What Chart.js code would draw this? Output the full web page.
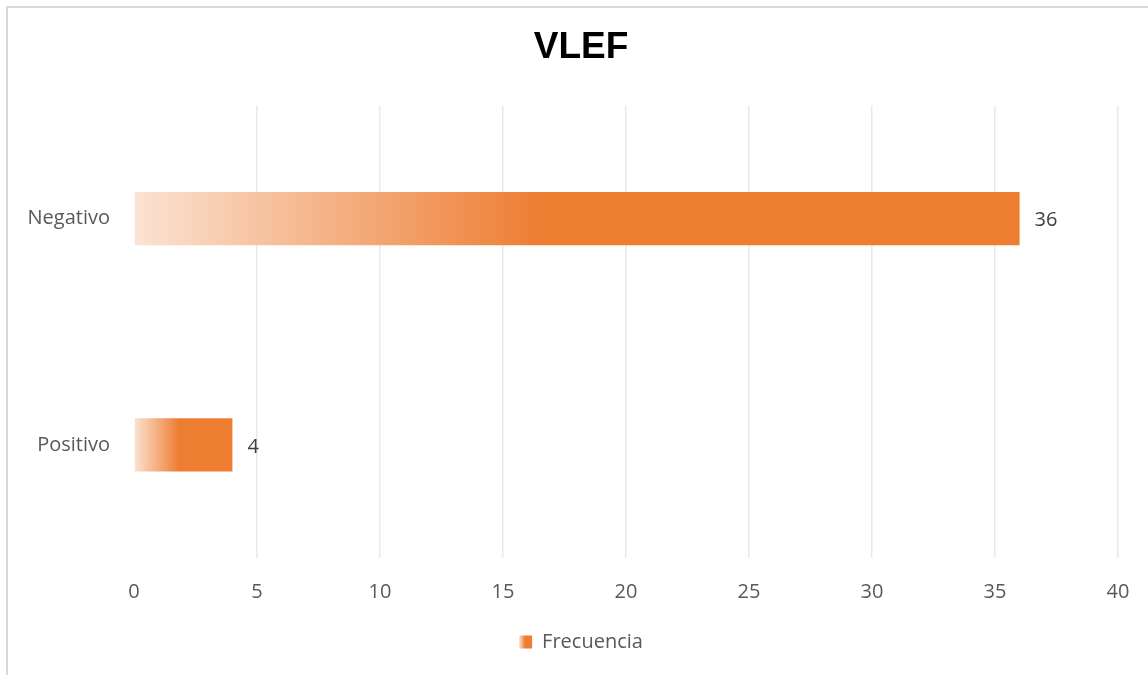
<!DOCTYPE html>
<html>
<head>
<meta charset="utf-8">
<script src="https://cdn.jsdelivr.net/npm/chart.js@4"></script>
<style>
  html, body { margin: 0; padding: 0; background: #fff; overflow: hidden; }
  #frame { position: absolute; left: 6px; top: 6px; width: 1200px; height: 720px; border: 2px solid #d9d9d9; }
  #wrap { position: absolute; left: 0; top: 0; width: 1148px; height: 675px; }
</style>
</head>
<body>
<div id="frame"></div>
<div id="wrap"><canvas id="vlefChart" width="1148" height="675"></canvas></div>
<script>
const categories = ['Negativo', 'Positivo'];
const frecuencia = [36, 4];
const xTicks = [0, 5, 10, 15, 20, 25, 30, 35, 40];

const ORANGE = '#ED7D31';
const LIGHT = '#FBE3D3';
const FONT = "'Open Sans', sans-serif";

function barGradient(context) {
    const chart = context.chart;
    if (!chart.chartArea || context.type !== 'data') return ORANGE;
    const x = chart.scales.x;
    const x0 = x.getPixelForValue(0);
    const x1 = x.getPixelForValue(context.raw);
    const g = chart.ctx.createLinearGradient(x0, 0, x1, 0);
    g.addColorStop(0, LIGHT);
    g.addColorStop(0.46, ORANGE);
    g.addColorStop(1, ORANGE);
    return g;
}

// values at the end of each bar
const valueLabels = {
    id: 'valueLabels',
    afterDatasetsDraw(chart) {
        const ctx = chart.ctx;
        const meta = chart.getDatasetMeta(0);
        ctx.save();
        ctx.font = '20px ' + FONT;
        ctx.fillStyle = '#404040';
        ctx.textAlign = 'left';
        ctx.textBaseline = 'middle';
        meta.data.forEach(function (bar, i) {
            ctx.fillText(String(frecuencia[i]), bar.x + 15, bar.y + 2);
        });
        ctx.restore();
    }
};

// legend swatch drawn with the same fading fill as the bars
const legendSwatch = {
    id: 'legendSwatch',
    afterDraw(chart) {
        const boxes = chart.legend && chart.legend.legendHitBoxes;
        if (!boxes || !boxes.length) return;
        const b = boxes[0];
        const ctx = chart.ctx;
        const size = 13;
        const top = b.top + (b.height - size) / 2;
        ctx.save();
        ctx.fillStyle = '#fff';
        ctx.fillRect(b.left - 1, top - 1, size + 2, size + 2);
        const g = ctx.createLinearGradient(b.left, 0, b.left + size, 0);
        g.addColorStop(0, LIGHT);
        g.addColorStop(0.46, ORANGE);
        g.addColorStop(1, ORANGE);
        ctx.fillStyle = g;
        ctx.fillRect(b.left, top, size, size);
        ctx.restore();
    }
};

new Chart(document.getElementById('vlefChart').getContext('2d'), {
    type: 'bar',
    data: {
        labels: categories,
        datasets: [{
            label: 'Frecuencia',
            data: frecuencia,
            backgroundColor: barGradient,
            borderWidth: 0,
            barPercentage: 0.47,
            categoryPercentage: 0.5
        }]
    },
    options: {
        indexAxis: 'y',
        responsive: false,
        animation: false,
        layout: { padding: { left: 14, right: 0, top: 0, bottom: 13 } },
        plugins: {
            title: {
                display: true,
                text: 'VLEF',
                color: '#000',
                font: { family: "'Liberation Sans', Arial, sans-serif", size: 37, weight: 'bold' },
                padding: { top: 26, bottom: 35 }
            },
            legend: {
                display: true,
                position: 'bottom',
                labels: {
                    boxWidth: 13,
                    boxHeight: 13,
                    color: '#595959',
                    font: { family: FONT, size: 20 },
                    padding: 6
                }
            },
            tooltip: { enabled: false }
        },
        scales: {
            x: {
                min: 0,
                max: 40,
                afterBuildTicks: function (scale) {
                    scale.ticks = xTicks.map(v => ({ value: v }));
                },
                afterFit: function (scale) { scale.paddingRight = 30; },
                grid: {
                    color: function (c) { return c.tick && c.tick.value === 0 ? 'rgba(0,0,0,0)' : '#e9e9e9'; },
                    lineWidth: 1.5,
                    drawTicks: false
                },
                border: { display: false },
                ticks: {
                    color: '#595959',
                    font: { family: FONT, size: 20 },
                    padding: 22
                }
            },
            y: {
                afterFit: function (scale) { scale.width = 120; },
                grid: { display: false },
                border: { display: false },
                ticks: {
                    color: '#595959',
                    font: { family: FONT, size: 20 },
                    padding: 16
                }
            }
        }
    },
    plugins: [valueLabels, legendSwatch]
});
</script>
</body>
</html>
